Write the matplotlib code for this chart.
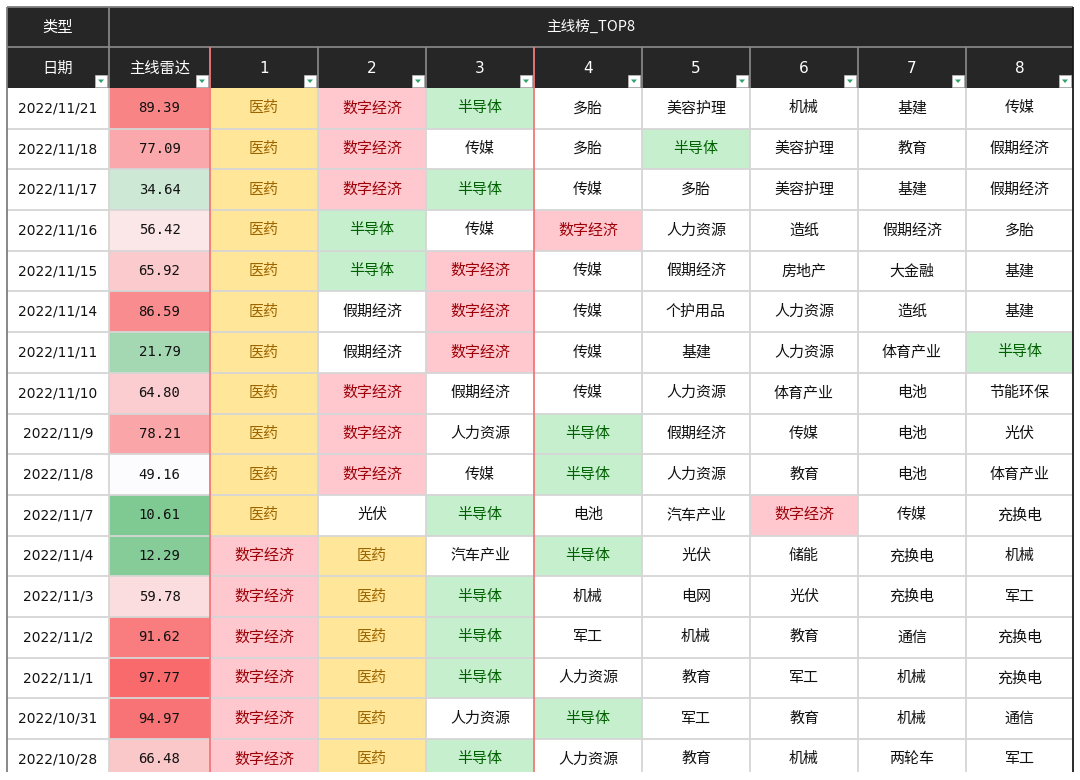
import matplotlib
matplotlib.use("Agg")
import matplotlib.pyplot as plt
from matplotlib.patches import Rectangle, Polygon
from matplotlib.colors import LinearSegmentedColormap, TwoSlopeNorm

plt.rcParams['font.family'] = ['Noto Sans CJK SC', 'DejaVu Sans']

# ---- data ----
dates = ["2022/11/21", "2022/11/18", "2022/11/17", "2022/11/16", "2022/11/15",
         "2022/11/14", "2022/11/11", "2022/11/10", "2022/11/9", "2022/11/8",
         "2022/11/7", "2022/11/4", "2022/11/3", "2022/11/2", "2022/11/1",
         "2022/10/31", "2022/10/28"]
radar = [89.39, 77.09, 34.64, 56.42, 65.92, 86.59, 21.79, 64.80, 78.21, 49.16,
         10.61, 12.29, 59.78, 91.62, 97.77, 94.97, 66.48]
rank1 = ["医药"] * 11 + ["数字经济"] * 6
rank2 = ["数字经济", "数字经济", "数字经济", "半导体", "半导体", "假期经济", "假期经济",
         "数字经济", "数字经济", "数字经济", "光伏"] + ["医药"] * 6
rank3 = ["半导体", "传媒", "半导体", "传媒", "数字经济", "数字经济", "数字经济",
         "假期经济", "人力资源", "传媒", "半导体", "汽车产业", "半导体", "半导体",
         "半导体", "人力资源", "半导体"]
rank4 = ["多胎", "多胎", "传媒", "数字经济", "传媒", "传媒", "传媒", "传媒", "半导体",
         "半导体", "电池", "半导体", "机械", "军工", "人力资源", "半导体", "人力资源"]
rank5 = ["美容护理", "半导体", "多胎", "人力资源", "假期经济", "个护用品", "基建",
         "人力资源", "假期经济", "人力资源", "汽车产业", "光伏", "电网", "机械", "教育",
         "军工", "教育"]
rank6 = ["机械", "美容护理", "美容护理", "造纸", "房地产", "人力资源", "人力资源",
         "体育产业", "传媒", "教育", "数字经济", "储能", "光伏", "教育", "军工", "教育", "机械"]
rank7 = ["基建", "教育", "基建", "假期经济", "大金融", "造纸", "体育产业", "电池", "电池",
         "电池", "传媒", "充换电", "充换电", "通信", "机械", "机械", "两轮车"]
rank8 = ["传媒", "假期经济", "假期经济", "多胎", "基建", "基建", "半导体", "节能环保",
         "光伏", "体育产业", "充换电", "机械", "军工", "充换电", "充换电", "通信", "军工"]
ranks = [rank1, rank2, rank3, rank4, rank5, rank6, rank7, rank8]
col_labels = ["日期", "主线雷达", "1", "2", "3", "4", "5", "6", "7", "8"]

# highlight styles (fill, text)
styles = {"医药": ("#FFE699", "#9C6500"),
          "数字经济": ("#FFC7CE", "#9C0006"),
          "半导体": ("#C6EFCE", "#006100")}

# ---- layout ----
xs = [7, 109, 210, 318, 426, 534, 642, 750, 858, 966, 1073]
top, mid, body = 7, 47, 88
row_h = 40.69
cut = 772  # the screenshot ends partway through the last row
head_bg = "#262626"
grid_c = "#D6D6D6"
red_c = "#F4777B"

fig = plt.figure(figsize=(10.8, 7.8), dpi=100)
ax = fig.add_axes([0, 0, 1, 1])
ax.set_xlim(0, 1080)
ax.set_ylim(780, 0)
ax.axis("off")

cmap = LinearSegmentedColormap.from_list("radar", ["#63BE7B", "#FCFCFF", "#F8696B"])
norm = TwoSlopeNorm(vmin=2, vcenter=49, vmax=98.5)

# header background
ax.add_patch(Rectangle((xs[0], top), xs[-1] - xs[0], body - top, facecolor=head_bg, edgecolor="none"))
ax.text((xs[0] + xs[1]) / 2, (top + mid) / 2, "类型", color="white", ha="center", va="center", fontsize=11)
ax.text((xs[1] + xs[-1]) / 2, (top + mid) / 2, "主线榜_TOP8", color="white", ha="center", va="center", fontsize=10.5)
for j, lab in enumerate(col_labels):
    cx = (xs[j] + xs[j + 1]) / 2
    fam = ["DejaVu Sans"] if lab.isdigit() else ['Noto Sans CJK SC', 'DejaVu Sans']
    ax.text(cx, (mid + body) / 2 + 1, lab, color="white", ha="center", va="center", fontsize=11, family=fam)
    # filter button
    bx = xs[j + 1] - 14
    ax.add_patch(Rectangle((bx, 75), 12, 12, facecolor="white", edgecolor="#BBBBBB", lw=0.5))
    ax.add_patch(Polygon([(bx + 3, 79.5), (bx + 9, 79.5), (bx + 6, 83)], closed=True,
                         facecolor="#2FA36B", edgecolor="none"))

# header lines
ax.hlines(mid, xs[0], xs[-1], color="#8C8C8C", lw=1.2)
ax.vlines(xs[1], top, mid, color="#8C8C8C", lw=1.2)
for x in xs[1:-1]:
    if x not in (210, 534):
        ax.vlines(x, mid, body, color="#8C8C8C", lw=1.2)

# body cells
n = len(dates)
for i in range(n):
    y0 = body + i * row_h
    h = min(row_h, cut - y0)
    cy = y0 + row_h / 2
    ax.text((xs[0] + xs[1]) / 2, cy, dates[i], ha="center", va="center", fontsize=9.9,
            family=["DejaVu Sans"], color="#111111")
    ax.add_patch(Rectangle((xs[1], y0), xs[2] - xs[1], h, facecolor=cmap(norm(radar[i])), edgecolor="none"))
    ax.text((xs[1] + xs[2]) / 2, cy, "%.2f" % radar[i], ha="center", va="center", fontsize=10,
            family=["DejaVu Sans Mono"], color="#111111")
    for k, rk in enumerate(ranks):
        name = rk[i]
        fill, tc = styles.get(name, ("white", "#111111"))
        x0 = xs[k + 2]
        ax.add_patch(Rectangle((x0, y0), xs[k + 3] - x0, h, facecolor=fill, edgecolor="none"))
        ax.text(x0 + (xs[k + 3] - x0) / 2, cy, name, ha="center", va="center", fontsize=10.8, color=tc)

# grid lines
for i in range(1, n):
    ax.hlines(body + i * row_h, xs[0], xs[-1], color=grid_c, lw=1.3)
for x in xs[1:-1]:
    c = red_c if x in (210, 534) else grid_c
    ax.vlines(x, body, cut, color=c, lw=1.3, zorder=3)
ax.vlines([210, 534], mid, body, color=red_c, lw=1.3, zorder=3)

# outer border
ax.vlines(xs[0], top, cut, color="#7F7F7F", lw=1.3, zorder=4)
ax.hlines(top, xs[0], xs[-1], color="#7F7F7F", lw=1.3, zorder=4)
ax.vlines(xs[-1], top, cut, color="#1A1A1A", lw=1.3, zorder=4)

fig.savefig("out.png", dpi=100)
